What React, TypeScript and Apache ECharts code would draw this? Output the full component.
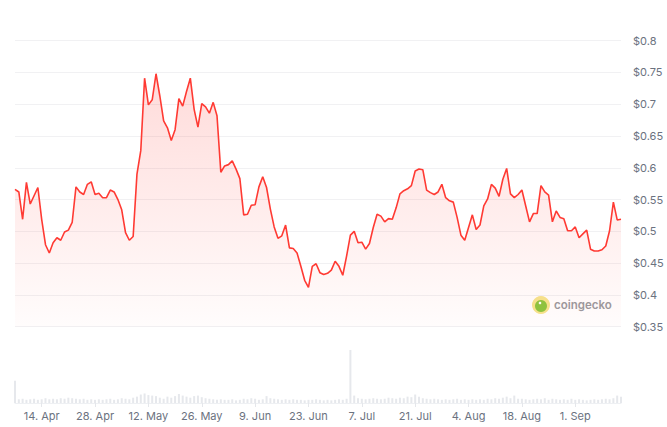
import React, { useEffect, useRef } from "react";
import * as echarts from "echarts";

const START_DATE = Date.UTC(2024, 3, 7); // 7 Apr
const MONTHS = ["Jan", "Feb", "Mar", "Apr", "May", "Jun", "Jul", "Aug", "Sep", "Oct", "Nov", "Dec"];

const prices: number[] = [
  0.566, 0.562, 0.519, 0.577, 0.543, 0.556, 0.569, 0.519, 0.479, 0.466, 0.482, 0.49, 0.486, 0.499, 0.502, 0.514, 0.57, 0.562, 0.558, 0.574, 0.578, 0.558,
  0.56,
  0.553, 0.553, 0.565, 0.562, 0.55, 0.534, 0.498, 0.486, 0.492, 0.59, 0.627, 0.741, 0.699, 0.707, 0.748, 0.713, 0.674, 0.663, 0.643, 0.66, 0.709, 0.697,
  0.72,
  0.741, 0.692, 0.664, 0.701, 0.696, 0.686, 0.703, 0.682, 0.593, 0.603, 0.605, 0.611, 0.598, 0.583, 0.526, 0.527, 0.541, 0.542, 0.57, 0.586, 0.569, 0.535,
  0.507,
  0.489, 0.493, 0.51, 0.474, 0.473, 0.466, 0.445, 0.423, 0.412, 0.445, 0.449, 0.435, 0.432, 0.434, 0.439, 0.453, 0.445, 0.431, 0.461, 0.494, 0.5, 0.482,
  0.483, 0.472, 0.481, 0.506, 0.527, 0.524, 0.515, 0.52, 0.519, 0.537, 0.559, 0.564, 0.567, 0.572, 0.595, 0.598, 0.597, 0.565, 0.561, 0.558, 0.562, 0.574, 0.553, 0.548,
  0.546, 0.522, 0.494, 0.486, 0.506, 0.526, 0.503, 0.51, 0.54, 0.551, 0.574, 0.568, 0.555, 0.582, 0.599, 0.559, 0.553, 0.558, 0.565, 0.54, 0.515, 0.528,
  0.528,
  0.572, 0.562, 0.557, 0.515, 0.532, 0.522, 0.52, 0.501, 0.501, 0.507, 0.49, 0.496, 0.502, 0.472, 0.469, 0.469, 0.471, 0.477, 0.501, 0.546, 0.518, 0.519,
];

const volumes: number[] = [
  42,
  7, 8, 6, 7, 8, 6, 7, 9, 7, 8,
  7, 9, 8, 10, 9, 8, 7, 8, 6, 7, 6, 7,
  6, 7, 8, 6, 7, 9, 8, 7, 10, 12,
  16, 18, 15, 14, 13, 10, 8, 12, 10, 13, 17, 14,
  12, 10, 13, 14, 11, 9, 8, 7, 6, 7, 6,
  6, 7, 5, 6, 8, 7, 9, 8, 6, 7, 13,
  9, 8, 7, 6, 7, 6, 7, 6, 6, 5, 6,
  6, 7, 6, 5, 6, 5, 6, 7, 6, 8,
  100,
  14, 9, 8, 7, 8, 9, 8, 7, 8, 10, 9,
  8, 10, 9, 12, 11, 16, 12, 9, 8, 7, 8,
  7, 6, 7, 6, 7, 8, 6, 7, 6, 7, 6,
  7, 6, 8, 7, 9, 8, 10, 12, 9, 14, 8,
  8, 7, 6, 7, 8, 7, 9, 6, 8, 7, 6,
  7, 6, 8, 6, 7, 6, 5, 6, 7, 6, 7,
  8, 7, 9, 14, 12,
];

const tickLabels: string[] = [
  "14. Apr", "28. Apr", "12. May", "26. May", "9. Jun", "23. Jun",
  "7. Jul", "21. Jul", "4. Aug", "18. Aug", "1. Sep",
];

const yTicks: number[] = [0.35, 0.4, 0.45, 0.5, 0.55, 0.6, 0.65, 0.7, 0.75, 0.8];

const dates: string[] = prices.map((_, i) => {
  const d = new Date(START_DATE + i * 86400000);
  return `${d.getUTCDate()}. ${MONTHS[d.getUTCMonth()]}`;
});

const tickSet = new Set(tickLabels);

export default function App() {
  const ref = useRef<HTMLDivElement>(null);
  useEffect(() => {
    if (!ref.current) return;
    const chart = echarts.init(ref.current, null, { renderer: "svg" });
    const font = "Inter, 'Noto Sans', sans-serif";
    chart.setOption({
      animation: false,
      backgroundColor: "#ffffff",
      grid: [
        { left: 15, right: 46, top: 40.7, bottom: 100.3 },
        { left: 15, right: 46, top: 350, height: 53 },
      ],
      xAxis: [
        { type: "category", gridIndex: 0, data: dates, boundaryGap: false, show: false },
        {
          type: "category",
          gridIndex: 1,
          data: dates,
          boundaryGap: false,
          axisLine: { show: true, lineStyle: { color: "#eef0f3", width: 1 } },
          axisTick: {
            show: true,
            length: 4,
            interval: (_i: number, v: string) => tickSet.has(v),
            lineStyle: { color: "#e5e7eb" },
          },
          axisLabel: {
            interval: (_i: number, v: string) => tickSet.has(v),
            color: "#6b7280",
            fontSize: 11,
            fontFamily: font,
            margin: 7,
          },
          splitLine: { show: false },
        },
      ],
      yAxis: [
        {
          type: "value",
          gridIndex: 0,
          position: "right",
          min: yTicks[0],
          max: yTicks[yTicks.length - 1],
          interval: 0.05,
          axisLine: { show: false },
          axisTick: { show: false },
          axisLabel: {
            color: "#6b7280",
            fontSize: 11,
            fontFamily: font,
            margin: 12,
            formatter: (v: number) => "$" + parseFloat(v.toFixed(2)),
          },
          splitLine: { show: true, lineStyle: { color: "#f1f1f3", width: 1 } },
        },
        { type: "value", gridIndex: 1, show: false, min: 0, max: 100 },
      ],
      series: [
        {
          type: "line",
          xAxisIndex: 0,
          yAxisIndex: 0,
          data: prices,
          symbol: "none",
          lineStyle: { color: "#ff3a33", width: 1.6 },
          areaStyle: {
            color: new echarts.graphic.LinearGradient(0, 0, 0, 1, [
              { offset: 0, color: "rgba(255,58,51,0.26)" },
              { offset: 1, color: "rgba(255,58,51,0.02)" },
            ]),
          },
          z: 2,
        },
        {
          type: "bar",
          xAxisIndex: 1,
          yAxisIndex: 1,
          data: volumes,
          barWidth: 2,
          itemStyle: { color: "#e6e8ec" },
        },
      ],
      graphic: [
        {
          type: "group",
          left: 532,
          top: 296,
          z: 10,
          children: [
            { type: "circle", shape: { cx: 9, cy: 9, r: 9 }, style: { fill: "#f6e58d" } },
            { type: "circle", shape: { cx: 9, cy: 10, r: 6 }, style: { fill: "#8cc63f" } },
            { type: "circle", shape: { cx: 8, cy: 7, r: 1.3 }, style: { fill: "#ffffff" } },
            {
              type: "text",
              x: 22,
              y: 3,
              style: {
                text: "coingecko",
                fill: "#9a9a9e",
                font: "600 11.5px Inter, 'Noto Sans', sans-serif",
              },
            },
          ],
        },
      ],
    });
    return () => chart.dispose();
  }, []);
  return (
    <div
      ref={ref}
      style={{ position: "fixed", left: 0, top: 0, width: 667, height: 427 }}
    />
  );
}
